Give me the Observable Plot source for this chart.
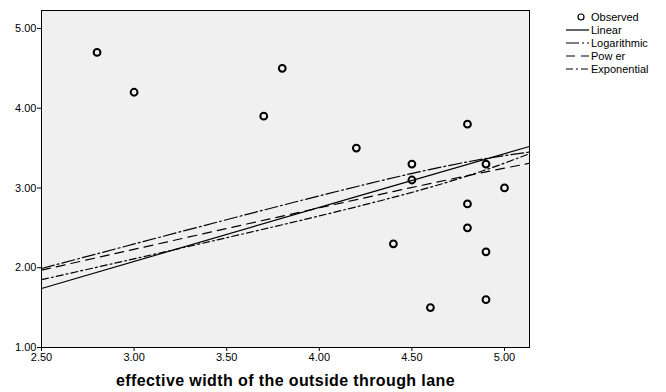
<!DOCTYPE html>
<html><head><meta charset="utf-8">
<script src="https://cdn.jsdelivr.net/npm/d3@7"></script>
<script src="https://cdn.jsdelivr.net/npm/@observablehq/plot@0.6"></script>
<style>
body{margin:0;background:#fff;}
#chart svg{font-family:"Liberation Sans",Arial,sans-serif;}
</style></head>
<body><div id="chart"></div>
<script>
// Observed points
const obsX = [2.8, 3.0, 3.7, 3.8, 4.2, 4.4, 4.5, 4.5, 4.6, 4.8, 4.8, 4.8, 4.9, 4.9, 4.9, 5.0];
const obsY = [4.7, 4.2, 3.9, 4.5, 3.5, 2.3, 3.3, 3.1, 1.5, 3.8, 2.8, 2.5, 3.3, 2.2, 1.6, 3.0];
// Fit lines read at the plot's left edge, middle and right edge
const fitX = [2.5, 4.33, 5.135];
const linearY = [1.74, 2.98, 3.52];
const logY = [1.99, 3.09, 3.45];
const powerY = [1.97, 2.92, 3.31];
const expY = [1.85, 2.84, 3.43];
const xTicks = [2.5, 3.0, 3.5, 4.0, 4.5, 5.0];
const yTicks = [1, 2, 3, 4, 5];
const seriesNames = ["Observed", "Linear", "Logarithmic", "Pow er", "Exponential"];
const dashes = {Linear: null, Logarithmic: "13,3,2,3", "Pow er": "9,6", Exponential: "7,3,2,3"};

const obs = obsX.map((x, i) => ({x, y: obsY[i]}));
const fits = [
  ["Linear", linearY], ["Logarithmic", logY], ["Pow er", powerY], ["Exponential", expY]
].map(([name, ys]) => ({name, pts: fitX.map((x, i) => ({x, y: ys[i]}))}));

const plot = Plot.plot({
  width: 666, height: 392,
  marginLeft: 41, marginTop: 10, marginRight: 137, marginBottom: 45,
  style: {fontSize: "11px", fontFamily: "Liberation Sans, Arial, sans-serif", color: "#000"},
  x: {domain: [2.5, 5.135]},
  y: {domain: [1, 5.225]},
  marks: [
    Plot.frame({fill: "#f0f0f0", stroke: null}),
    ...fits.map(f => Plot.line(f.pts, {x: "x", y: "y", curve: "natural", stroke: "#000", strokeWidth: 1.2, strokeDasharray: dashes[f.name]})),
    Plot.dot(obs, {x: "x", y: "y", r: 3.4, stroke: "#000", strokeWidth: 2, fill: "none"}),
    Plot.frame({stroke: "#000", strokeWidth: 1}),
    Plot.axisY({ticks: yTicks, tickFormat: d3.format(".2f"), tickSize: 4, tickPadding: 1, label: null, stroke: "#000"}),
    Plot.axisX({ticks: xTicks, tickFormat: d3.format(".2f"), tickSize: 4, tickPadding: 2, label: "effective width of the outside through lane", labelAnchor: "center", labelArrow: "none", labelOffset: 38, stroke: "#000"})
  ]
});
document.getElementById("chart").appendChild(plot);

const svg = d3.select(plot);
svg.selectAll('[aria-label="x-axis label"] text').attr("font-weight", "bold").attr("font-size", "16px").attr("letter-spacing", "0.4px");

// Legend
const lg = svg.append("g").attr("font-size", "11px").attr("font-family", "Liberation Sans, Arial, sans-serif").attr("text-anchor", "start");
seriesNames.forEach((name, i) => {
  const y = 17 + i * 13;
  if (name === "Observed") {
    lg.append("circle").attr("cx", 581).attr("cy", y).attr("r", 3).attr("fill", "none").attr("stroke", "#000").attr("stroke-width", 1.2);
  } else {
    lg.append("line").attr("x1", 566).attr("x2", 589).attr("y1", y).attr("y2", y).attr("stroke", "#000").attr("stroke-width", 1.2).attr("stroke-dasharray", dashes[name]);
  }
  lg.append("text").attr("x", 591).attr("y", y).attr("dy", "0.35em").text(name);
});
</script></body></html>
